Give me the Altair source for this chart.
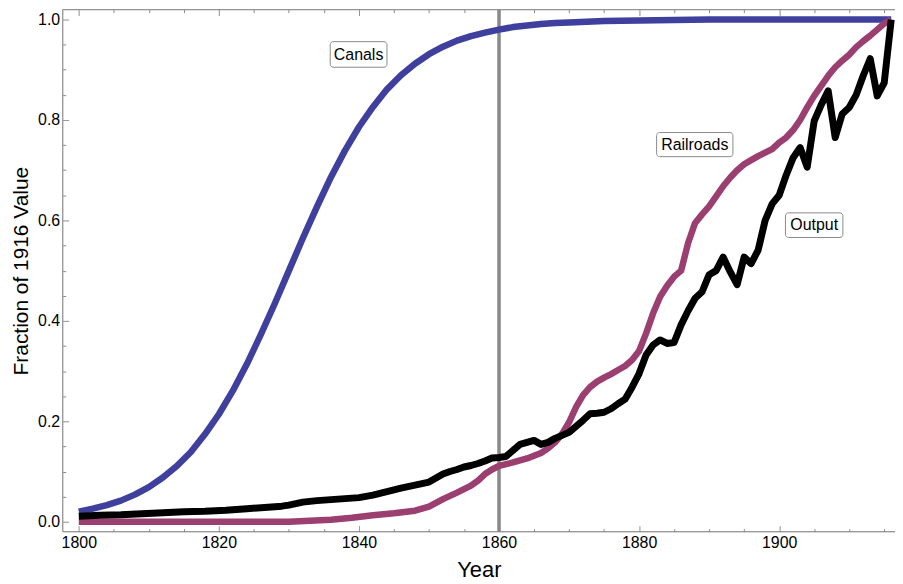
import altair as alt
import pandas as pd

# ---------------- data ----------------
canal_years = [1800, 1802, 1804, 1806, 1808, 1810, 1812, 1814, 1816, 1818,
               1820, 1822, 1824, 1826, 1828, 1830, 1832, 1834, 1836, 1838,
               1840, 1842, 1844, 1846, 1848, 1850, 1852, 1854, 1856, 1858,
               1860, 1862, 1864, 1866, 1868, 1870, 1875, 1880, 1890, 1900, 1916]
canal_values = [0.020, 0.026, 0.033, 0.042, 0.054, 0.069, 0.088, 0.111, 0.139, 0.174,
                0.214, 0.261, 0.314, 0.373, 0.435, 0.500, 0.565, 0.627, 0.686, 0.739,
                0.786, 0.826, 0.861, 0.889, 0.912, 0.931, 0.946, 0.958, 0.967, 0.974,
                0.980, 0.985, 0.988, 0.991, 0.993, 0.994, 0.997, 0.998, 1.000, 1.000, 1.000]

rail_years = [1800, 1830, 1833, 1836, 1839, 1842, 1845, 1848, 1850, 1852,
              1854, 1856, 1857, 1858, 1859, 1860, 1862, 1864, 1866, 1867,
              1868, 1869, 1870, 1871, 1872, 1873, 1874, 1875, 1876, 1877,
              1878, 1879, 1880, 1881, 1882, 1883, 1884, 1885, 1886, 1887,
              1888, 1889, 1890, 1891, 1892, 1893, 1894, 1895, 1896, 1897,
              1898, 1899, 1900, 1901, 1902, 1903, 1904, 1905, 1906, 1907,
              1908, 1909, 1910, 1911, 1912, 1913, 1914, 1915, 1916]
rail_values = [0.000, 0.000, 0.002, 0.004, 0.008, 0.013, 0.017, 0.022, 0.030, 0.045,
               0.058, 0.072, 0.082, 0.095, 0.104, 0.111, 0.118, 0.126, 0.137, 0.146,
               0.158, 0.175, 0.198, 0.228, 0.252, 0.268, 0.279, 0.287, 0.294, 0.302,
               0.310, 0.322, 0.340, 0.375, 0.415, 0.448, 0.470, 0.488, 0.500, 0.555,
               0.595, 0.612, 0.628, 0.648, 0.668, 0.685, 0.700, 0.712, 0.720, 0.728,
               0.735, 0.742, 0.755, 0.765, 0.780, 0.800, 0.825, 0.848, 0.868, 0.888,
               0.905, 0.918, 0.930, 0.945, 0.957, 0.968, 0.980, 0.992, 1.000]

output_years = [1800, 1803, 1806, 1809, 1812, 1815, 1818, 1821, 1824, 1827,
                1829, 1830, 1831, 1832, 1834, 1836, 1838, 1840, 1842, 1844,
                1846, 1848, 1850, 1851, 1852, 1853, 1854, 1855, 1856, 1857,
                1858, 1859, 1860, 1861, 1862, 1863, 1864, 1865, 1866, 1867,
                1868, 1869, 1870, 1871, 1872, 1873, 1874, 1875, 1876, 1877,
                1878, 1879, 1880, 1881, 1882, 1883, 1884, 1885, 1886, 1887,
                1888, 1889, 1890, 1891, 1892, 1893, 1894, 1895, 1896, 1897,
                1898, 1899, 1900, 1901, 1902, 1903, 1904, 1905, 1906, 1907,
                1908, 1909, 1910, 1911, 1912, 1913, 1914, 1915, 1916]
output_values = [0.011, 0.013, 0.014, 0.016, 0.018, 0.020, 0.021, 0.023, 0.026, 0.029,
                 0.031, 0.033, 0.036, 0.039, 0.042, 0.044, 0.046, 0.048, 0.053, 0.060,
                 0.067, 0.073, 0.079, 0.087, 0.095, 0.100, 0.104, 0.109, 0.112, 0.116,
                 0.121, 0.127, 0.128, 0.130, 0.142, 0.154, 0.158, 0.162, 0.154, 0.158,
                 0.166, 0.172, 0.178, 0.190, 0.202, 0.215, 0.216, 0.218, 0.225, 0.235,
                 0.244, 0.268, 0.295, 0.332, 0.352, 0.362, 0.355, 0.357, 0.392, 0.420,
                 0.445, 0.458, 0.492, 0.500, 0.527, 0.498, 0.472, 0.527, 0.514, 0.541,
                 0.600, 0.633, 0.650, 0.690, 0.725, 0.745, 0.706, 0.798, 0.830, 0.858,
                 0.765, 0.812, 0.825, 0.850, 0.888, 0.922, 0.848, 0.874, 1.000]

label_names = ["Canals", "Railroads", "Output"]
label_x = [1839.95, 1887.95, 1905.0]
label_y = [0.930, 0.751, 0.590]
box_x0 = [1835.9, 1882.5, 1900.9]
box_x1 = [1844.0, 1893.4, 1909.1]
box_y0 = [0.905, 0.727, 0.566]
box_y1 = [0.956, 0.775, 0.615]

marker_year = [1860]

x_ticks = list(range(1800, 1916, 5))
y_ticks = [round(i * 0.05, 2) for i in range(0, 21)]

# ---------------- tables ----------------
canals = pd.DataFrame({"year": canal_years, "value": canal_values})
rails = pd.DataFrame({"year": rail_years, "value": rail_values})
output = pd.DataFrame({"year": output_years, "value": output_values})
labels = pd.DataFrame({"name": label_names, "lx": label_x, "ly": label_y,
                       "x0": box_x0, "x1": box_x1, "y0": box_y0, "y1": box_y1})
marker = pd.DataFrame({"year": marker_year})

FONT = "Liberation Sans"
W, H = 837, 525
xs = alt.Scale(domain=[1797.7, 1916.54], nice=False, zero=False)
ys = alt.Scale(domain=[-0.0198, 1.0198], nice=False, zero=False)

minor_dash_x = {"condition": {"test": "datum.value % 20 !== 0", "value": [0, 3, 3]}, "value": [1, 0]}
minor_dash_y = {"condition": {"test": "abs(datum.value * 5 - round(datum.value * 5)) > 0.001",
                              "value": [0, 3, 3]}, "value": [1, 0]}

x_axis = alt.Axis(values=x_ticks, format="d", title="Year",
                  labelExpr="datum.value % 20 === 0 ? datum.label : ''",
                  domain=False, grid=False, offset=-6, tickSize=6, tickColor="#888",
                  tickDash=minor_dash_x,
                  labelPadding=3, labelFontSize=16, labelFont=FONT, labelColor="#000",
                  titleFont=FONT, titleFontSize=22, titleFontWeight="normal",
                  titleColor="#000", titlePadding=9)
x_top = alt.Axis(values=x_ticks, orient="top", labels=False, title=None,
                 domain=False, grid=False, offset=-6, tickSize=6, tickColor="#888",
                 tickDash=minor_dash_x)
y_axis = alt.Axis(values=y_ticks, format=".1f", title="Fraction of 1916 Value",
                  labelExpr="abs(datum.value * 5 - round(datum.value * 5)) < 0.001 ? datum.label : ''",
                  domain=False, grid=False, offset=-6, tickSize=6, tickColor="#888",
                  tickDash=minor_dash_y,
                  labelPadding=3, labelFontSize=16, labelFont=FONT, labelColor="#000",
                  titleFont=FONT, titleFontSize=21, titleFontWeight="normal",
                  titleColor="#000", titlePadding=6)

rule = alt.Chart(marker).mark_rule(color="#888888", strokeWidth=3.5).encode(
    x=alt.X("year:Q", scale=xs, axis=x_top)
)

def series(df, color, width, xaxis):
    return alt.Chart(df).mark_line(color=color, strokeWidth=width, strokeJoin="round").encode(
        x=alt.X("year:Q", scale=xs, axis=xaxis),
        y=alt.Y("value:Q", scale=ys, axis=y_axis),
    )

canal_line = series(canals, "#3f3f9e", 6.5, x_axis)
rail_line = series(rails, "#9b3f70", 6.5, None)
output_line = series(output, "#000000", 7, None)

boxes = alt.Chart(labels).mark_rect(fill="white", stroke="#8a8a8a", strokeWidth=1,
                                    cornerRadius=3).encode(
    x=alt.X("x0:Q", scale=xs, axis=None), x2="x1:Q",
    y=alt.Y("y0:Q", scale=ys, axis=y_axis), y2="y1:Q",
)
texts = alt.Chart(labels).mark_text(font=FONT, fontSize=16, color="#000").encode(
    x=alt.X("lx:Q", scale=xs, axis=None),
    y=alt.Y("ly:Q", scale=ys, axis=y_axis),
    text="name:N",
)

frame_top = alt.Chart(marker).mark_rule(color="#888", strokeWidth=1).encode(
    y=alt.value(0))
frame_left = alt.Chart(marker).mark_rule(color="#888", strokeWidth=1).encode(
    x=alt.value(0))
frame_bottom = alt.Chart(marker).mark_rule(color="#888", strokeWidth=1).encode(
    y=alt.value(H))

chart = alt.layer(
    rule, canal_line, rail_line, output_line, boxes, texts,
    frame_top, frame_left, frame_bottom,
).resolve_axis(x="independent").properties(
    width=W, height=H,
    padding={"left": 55, "top": 0, "right": 0, "bottom": 50},
    autosize=alt.AutoSizeParams(type="none"),
).configure_view(stroke=None).configure(background="white")

chart.save("out.html", embed_options={"renderer": "svg", "actions": False})
